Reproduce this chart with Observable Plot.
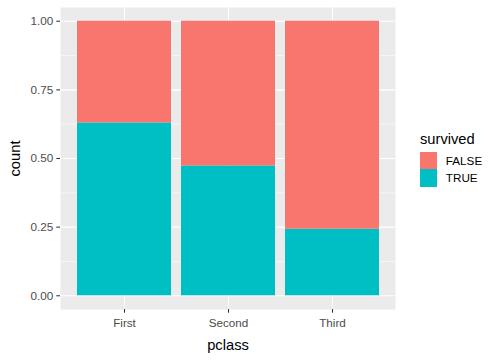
<!DOCTYPE html>
<html>
<head>
<meta charset="utf-8">
<script src="https://cdn.jsdelivr.net/npm/d3@7"></script>
<script src="https://cdn.jsdelivr.net/npm/@observablehq/plot@0.6"></script>
<style>
  body { margin: 0; background: white; }
  #wrap { position: relative; width: 504px; height: 360px; font-family: "Liberation Sans", Arial, sans-serif; }
  #wrap svg g[aria-label="y-axis label"] text, #wrap svg g[aria-label="x-axis label"] text { font-size: 14.7px; fill: black; }
  #legend { position: absolute; left: 420px; top: 130px; }
  #legend .title { font-size: 14.7px; color: black; height: 22px; line-height: 18px; }
  #legend .row { display: flex; align-items: center; height: 17.3px; }
  #legend .key { width: 17.3px; height: 17.3px; }
  #legend .lab { font-size: 11.7px; color: black; margin-left: 8.5px; }
</style>
</head>
<body>
<div id="wrap"></div>
<script>
const pclass = ["First", "Second", "Third"];
const survivedTrue = [136, 87, 119];
const survivedFalse = [80, 97, 372];
const survivedLevels = ["FALSE", "TRUE"];
const fillColors = ["#F8766D", "#00BFC4"];
const majorTicks = [0, 0.25, 0.5, 0.75, 1];
const minorTicks = [0.125, 0.375, 0.625, 0.875];

const rows = [];
pclass.forEach((p, i) => {
  rows.push({pclass: p, survived: "TRUE", count: survivedTrue[i]});
  rows.push({pclass: p, survived: "FALSE", count: survivedFalse[i]});
});

const chart = Plot.plot({
  width: 504,
  height: 360,
  marginLeft: 60,
  marginRight: 109,
  marginTop: 7,
  marginBottom: 51,
  style: {fontFamily: "'Liberation Sans', Arial, sans-serif", background: "white"},
  x: {domain: pclass, paddingInner: 0.1, paddingOuter: 0.15},
  y: {domain: [-0.05, 1.05]},
  color: {domain: survivedLevels, range: fillColors},
  marks: [
    Plot.frame({fill: "#EBEBEB", stroke: "none"}),
    Plot.gridY(minorTicks, {stroke: "white", strokeOpacity: 1, strokeWidth: 0.53}),
    Plot.gridY(majorTicks, {stroke: "white", strokeOpacity: 1, strokeWidth: 1.07}),
    Plot.gridX({stroke: "white", strokeOpacity: 1, strokeWidth: 1.07}),
    Plot.barY(rows, Plot.stackY({offset: "normalize"}, {x: "pclass", y: "count", fill: "survived"})),
    Plot.axisY(majorTicks, {
      tickFormat: d3.format(".2f"), tickSize: 3.7, tickPadding: 3.5, fontSize: 11.7,
      stroke: "#333333", fill: "#4D4D4D", strokeWidth: 1.07,
      label: "count", labelAnchor: "center", labelArrow: "none", labelOffset: 51
    }),
    Plot.axisX({
      tickSize: 3.7, tickPadding: 5.5, fontSize: 11.7,
      stroke: "#333333", fill: "#4D4D4D", strokeWidth: 1.07,
      label: "pclass", labelAnchor: "center", labelArrow: "none", labelOffset: 40
    })
  ]
});
const wrap = document.getElementById("wrap");
wrap.appendChild(chart);

const legend = document.createElement("div");
legend.id = "legend";
const t = document.createElement("div");
t.className = "title";
t.textContent = "survived";
legend.appendChild(t);
survivedLevels.forEach((lv, i) => {
  const r = document.createElement("div");
  r.className = "row";
  const k = document.createElement("div");
  k.className = "key";
  k.style.background = fillColors[i];
  const l = document.createElement("span");
  l.className = "lab";
  l.textContent = lv;
  r.appendChild(k); r.appendChild(l);
  legend.appendChild(r);
});
wrap.appendChild(legend);
</script>
</body>
</html>
